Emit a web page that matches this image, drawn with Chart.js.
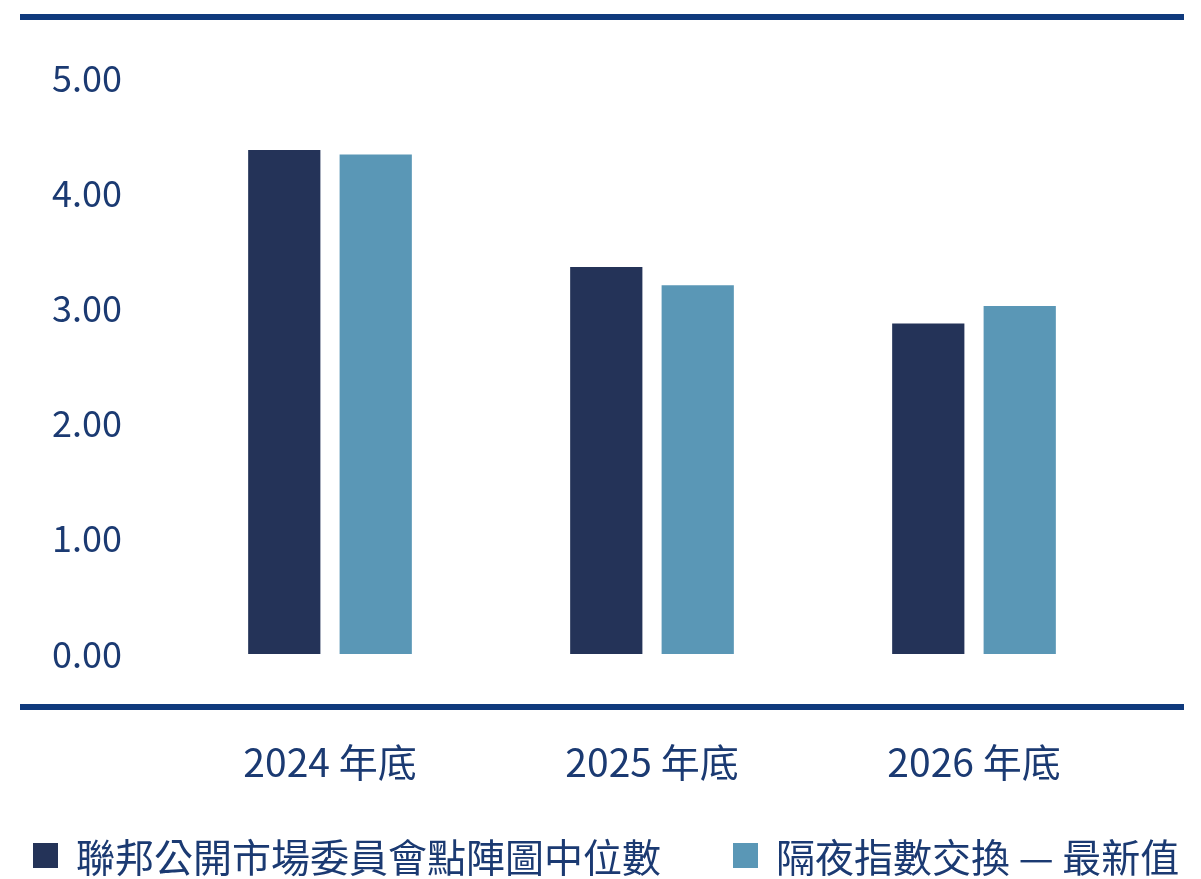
<!DOCTYPE html>
<html>
<head>
<meta charset="utf-8">
<script src="https://cdn.jsdelivr.net/npm/chart.js@4.4.1/dist/chart.umd.min.js"></script>
<style>
  html, body { margin: 0; padding: 0; background: #fff; }
  #wrap { position: relative; width: 1201px; height: 879px; }
  #legend {
    position: absolute; left: 33px; top: 832px; height: 46px;
    display: flex; align-items: center;
    font-family: "Noto Sans CJK TC", "Noto Sans", sans-serif;
    font-size: 39px; color: #1b3a72; white-space: nowrap;
  }
  .item { display: flex; align-items: center; }
  .box { width: 25px; height: 25px; margin-right: 18px; }
</style>
</head>
<body>
<div id="wrap">
  <canvas id="scoreChart" width="1201" height="879"></canvas>
  <div id="legend"></div>
</div>
<script>
const categories = ['2024 年底', '2025 年底', '2026 年底'];
const seriesNames = ['聯邦公開市場委員會點陣圖中位數', '隔夜指數交換 — 最新值'];
const dotPlotMedian = [4.375, 3.36, 2.87];
const oisLatest = [4.335, 3.20, 3.02];
const yTicks = [0, 1, 2, 3, 4, 5];

const colors = ['#243358', '#5a97b6'];
const lineColor = '#0f3a7d';
const textColor = '#1b3a72';
const fontFamily = '"Noto Sans CJK TC", "Noto Sans", sans-serif';

// top and bottom rules of the graphic
const rules = {
    id: 'rules',
    afterDraw(chart) {
        const ctx = chart.ctx;
        ctx.save();
        ctx.fillStyle = lineColor;
        ctx.fillRect(20, 14, 1164, 6);
        ctx.fillRect(20, 704, 1164, 6);
        ctx.restore();
    }
};

const ctx = document.getElementById('scoreChart').getContext('2d');
window.myChart = new Chart(ctx, {
    type: 'bar',
    data: {
        labels: categories,
        datasets: [
            { label: seriesNames[0], data: dotPlotMedian, backgroundColor: colors[0] },
            { label: seriesNames[1], data: oisLatest, backgroundColor: colors[1] }
        ]
    },
    options: {
        responsive: false,
        animation: false,
        categoryPercentage: 0.568,
        barPercentage: 0.79,
        layout: { padding: { top: 78, right: 66, bottom: 95, left: 0 } },
        plugins: {
            legend: { display: false },
            tooltip: { enabled: false }
        },
        scales: {
            x: {
                grid: { display: false, drawTicks: false },
                border: { display: false },
                ticks: {
                    color: textColor,
                    padding: 85,
                    font: { family: fontFamily, size: 39 }
                },
                afterFit(scale) { scale.height = 130; }
            },
            y: {
                min: 0,
                max: 5,
                grid: { display: false, drawTicks: false },
                border: { display: false },
                afterBuildTicks(scale) { scale.ticks = yTicks.map(v => ({ value: v })); },
                ticks: {
                    color: textColor,
                    padding: 47,
                    font: { family: fontFamily, size: 36 },
                    callback: v => Number(v).toFixed(2)
                },
                afterFit(scale) { scale.width = 169; }
            }
        }
    },
    plugins: [rules]
});

// legend built from the series names and colours
const legend = document.getElementById('legend');
seriesNames.forEach((name, i) => {
    const item = document.createElement('div');
    item.className = 'item';
    if (i > 0) item.style.marginLeft = '72px';
    const box = document.createElement('span');
    box.className = 'box';
    box.style.background = colors[i];
    const txt = document.createElement('span');
    txt.textContent = name;
    item.appendChild(box);
    item.appendChild(txt);
    legend.appendChild(item);
});
</script>
</body>
</html>
